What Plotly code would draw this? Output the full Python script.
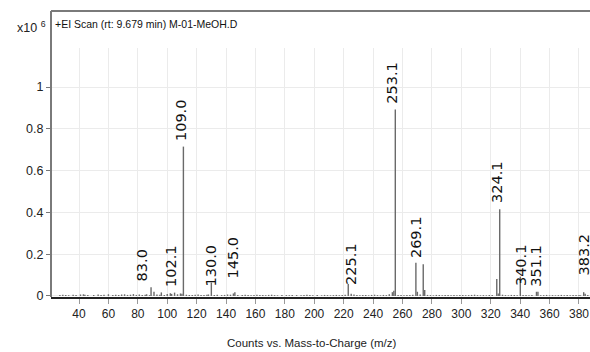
import plotly.graph_objects as go

# ---- data (intensity in units of 1e6 counts) ----
peak_mz = [83.0, 88.0, 89.0, 91.0, 96.0, 102.1, 103.0, 105.0, 109.0, 110.0, 111.0,
           130.0, 145.0, 146.0, 223.1, 225.1, 253.1, 254.1, 255.1, 269.1, 270.1,
           274.1, 275.1, 324.1, 325.1, 326.1, 340.1, 351.1, 352.1, 383.2, 384.2]
peak_int = [0.042, 0.020, 0.017, 0.013, 0.010, 0.016, 0.012, 0.010, 0.715, 0.064, 0.012,
            0.018, 0.057, 0.010, 0.018, 0.025, 0.893, 0.159, 0.020, 0.152, 0.029,
            0.081, 0.012, 0.415, 0.092, 0.020, 0.020, 0.018, 0.010, 0.068, 0.016]

noise_mz = [27, 29, 31, 33, 36, 38, 41, 43, 44, 46, 50, 53, 55, 57, 60, 63, 65, 67, 69,
            71, 73, 75, 77, 79, 81, 85, 86, 93, 95, 98, 100, 107, 113, 115, 117, 119,
            121, 123, 125, 127, 128, 132, 134, 137, 139, 141, 143, 148, 151, 153, 155,
            157, 159, 161, 163, 165, 167, 169, 171, 173, 175, 178, 181, 183, 185, 188,
            191, 193, 195, 197, 199, 202, 205, 207, 209, 211, 213, 215, 217, 219, 221,
            227, 229, 231, 233, 235, 237, 239, 241, 243, 245, 247, 249, 251, 257, 259,
            261, 263, 265, 267, 272, 277, 279, 281, 283, 285, 287, 289, 291, 293, 295,
            297, 299, 301, 303, 305, 307, 309, 311, 313, 315, 317, 319, 321, 328, 330,
            332, 334, 336, 338, 342, 344, 346, 348, 354, 356, 358, 360, 362, 364, 366,
            368, 370, 372, 374, 376, 378, 380, 381, 386]
noise_int = [0.004, 0.006, 0.005, 0.003, 0.006, 0.004, 0.007, 0.008, 0.006, 0.004, 0.005,
             0.007, 0.004, 0.006, 0.008, 0.005, 0.006, 0.004, 0.007, 0.008, 0.005, 0.006,
             0.009, 0.005, 0.007, 0.006, 0.008, 0.007, 0.006, 0.005, 0.009, 0.008, 0.006,
             0.005, 0.004, 0.006, 0.007, 0.005, 0.004, 0.006, 0.007, 0.005, 0.006, 0.004,
             0.005, 0.007, 0.006, 0.005, 0.004, 0.006, 0.005, 0.003, 0.004, 0.006, 0.005,
             0.004, 0.003, 0.005, 0.006, 0.004, 0.003, 0.005, 0.004, 0.003, 0.005, 0.004,
             0.003, 0.004, 0.006, 0.005, 0.003, 0.004, 0.003, 0.005, 0.004, 0.003, 0.004,
             0.005, 0.003, 0.004, 0.006, 0.007, 0.004, 0.003, 0.005, 0.004, 0.003, 0.005,
             0.006, 0.004, 0.003, 0.005, 0.004, 0.008, 0.005, 0.004, 0.003, 0.005, 0.004,
             0.006, 0.007, 0.005, 0.004, 0.003, 0.005, 0.004, 0.003, 0.004, 0.005, 0.003,
             0.004, 0.003, 0.005, 0.004, 0.003, 0.004, 0.005, 0.006, 0.004, 0.003, 0.004,
             0.003, 0.005, 0.004, 0.006, 0.004, 0.003, 0.005, 0.004, 0.003, 0.004, 0.005,
             0.003, 0.004, 0.003, 0.004, 0.005, 0.003, 0.004, 0.003, 0.004, 0.005, 0.003,
             0.004, 0.003, 0.004, 0.005, 0.004, 0.003, 0.004, 0.005, 0.004]

label_mz = [83.0, 102.1, 109.0, 130.0, 145.0, 225.1, 253.1, 269.1, 324.1, 340.1, 351.1, 383.2]
label_text = ["83.0", "102.1", "109.0", "130.0", "145.0", "225.1", "253.1", "269.1",
              "324.1", "340.1", "351.1", "383.2"]

x_ticks = list(range(40, 381, 20))
y_ticks = [0, 0.2, 0.4, 0.6, 0.8, 1.0]
y_ticktext = ["0", "0.2", "0.4", "0.6", "0.8", "1"]

title_text = "+EI Scan (rt: 9.679 min) M-01-MeOH.D"
x_title = "Counts vs. Mass-to-Charge (m/z)"

# ---- build stick spectrum ----
all_mz = noise_mz + peak_mz
all_int = noise_int + peak_int
xs, ys = [], []
for m, v in zip(all_mz, all_int):
    xs += [m, m, None]
    ys += [0, v, None]

SANS = "Liberation Sans, Arial, sans-serif"

fig = go.Figure()
fig.add_trace(go.Scatter(x=xs, y=ys, mode="lines",
                         line=dict(color="#6a6a6a", width=1.4),
                         hoverinfo="skip", showlegend=False))

lookup = dict(zip(peak_mz, peak_int))
for m, t in zip(label_mz, label_text):
    fig.add_annotation(x=m, y=lookup[m], text=t, textangle=-90,
                       showarrow=False, xanchor="center", yanchor="bottom",
                       yshift=4, font=dict(family="DejaVu Sans, sans-serif",
                                           size=14.5, color="#111"))

fig.add_annotation(xref="paper", yref="paper", x=-0.066, y=1.085, xanchor="left",
                   yanchor="middle", text="x10 <sup>6</sup>", showarrow=False,
                   font=dict(family=SANS, size=12.5, color="#222"))
fig.add_annotation(xref="paper", yref="paper", x=0.004, y=1.095, xanchor="left",
                   yanchor="middle", text=title_text, showarrow=False,
                   font=dict(family=SANS, size=10.5, color="#111"))
fig.add_annotation(xref="paper", yref="paper", x=0.485, y=-0.185, xanchor="center",
                   yanchor="middle", text=x_title, showarrow=False,
                   font=dict(family=SANS, size=11.5, color="#222"))

# frame (left and top)
top_y = (297 - 11) / 249
fig.add_shape(type="line", xref="paper", yref="paper", x0=0, x1=0, y0=0, y1=top_y,
              line=dict(color="#7a7a7a", width=2))
fig.add_shape(type="line", xref="paper", yref="paper", x0=0, x1=1.01, y0=top_y, y1=top_y,
              line=dict(color="#7a7a7a", width=2))

fig.update_layout(
    width=590, height=352,
    margin=dict(l=51, r=0, t=48, b=55),
    paper_bgcolor="white", plot_bgcolor="white",
    showlegend=False,
)
fig.update_xaxes(range=[20.96, 387.5], tickvals=x_ticks, showgrid=True,
                 gridcolor="#ebebeb", gridwidth=1, zeroline=False,
                 showline=True, linecolor="#222", linewidth=2,
                 ticks="outside", ticklen=5, tickcolor="#999",
                 tickfont=dict(family=SANS, size=12, color="#222"))
fig.update_yaxes(range=[-0.005, 1.187], tickvals=y_ticks, ticktext=y_ticktext,
                 showgrid=True, gridcolor="#ebebeb", gridwidth=1, zeroline=False,
                 showline=False, ticks="outside", ticklen=4, tickcolor="#777",
                 tickfont=dict(family=SANS, size=12.5, color="#222"))

fig.write_html("out.html",
               config={"displayModeBar": False},
               post_script="document.body.style.margin='0';"
                           "document.body.style.overflow='hidden';")
